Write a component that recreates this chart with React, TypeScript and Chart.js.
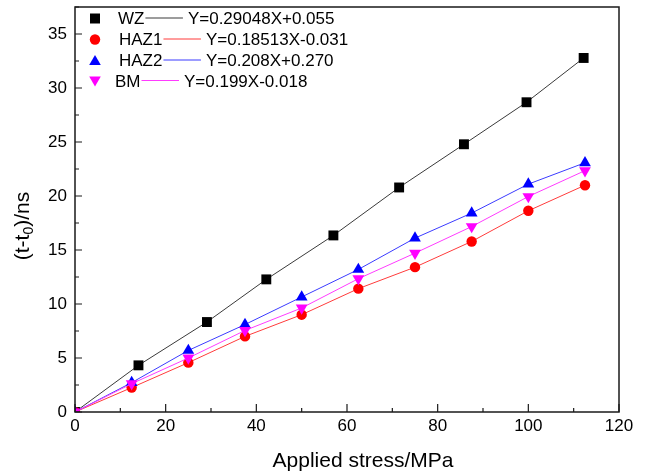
import React, { useEffect, useRef } from 'react';
import { Chart, registerables } from 'chart.js';

Chart.register(...registerables);

// ---- data ----
const seriesNames = ['WZ', 'HAZ1', 'HAZ2', 'BM'];
const equations = ['Y=0.29048X+0.055', 'Y=0.18513X-0.031', 'Y=0.208X+0.270', 'Y=0.199X-0.018'];
const wzStress = [0, 14.0, 29.1, 42.2, 57.0, 71.5, 85.8, 99.6, 112.2];
const wzDelay = [0, 4.32, 8.33, 12.28, 16.35, 20.79, 24.79, 28.68, 32.78];
const hazStress = [0, 12.5, 25, 37.5, 50, 62.5, 75, 87.5, 100, 112.5];
const haz1Delay = [0, 2.26, 4.57, 7.0, 9.01, 11.42, 13.41, 15.79, 18.63, 21.0];
const haz2Delay = [0, 2.72, 5.7, 8.1, 10.65, 13.2, 16.1, 18.42, 21.1, 23.08];
const bmDelay = [0, 2.62, 5.0, 7.55, 9.63, 12.34, 14.71, 17.17, 19.95, 22.35];
const xTickValues = [0, 20, 40, 60, 80, 100, 120];
const yTickValues = [0, 5, 10, 15, 20, 25, 30, 35];
const xAxisTitle = 'Applied stress/MPa';
const yAxisTitleParts = ['(t-t', '0', ')/ns'];

const markerColors = ['#000000', '#ff0000', '#0000ff', '#ff00ff'];
const lineColors = ['#3a3a3a', '#ff3b3b', '#3b3bff', '#ff3bff'];
const FONT = "'Liberation Sans', Arial, Helvetica, sans-serif";

const toPoints = (xs: number[], ys: number[]) => xs.map((x, i) => ({ x, y: ys[i] }));

function drawMarker(ctx: CanvasRenderingContext2D, idx: number, x: number, y: number) {
  ctx.save();
  ctx.fillStyle = markerColors[idx];
  ctx.beginPath();
  if (idx === 0) {
    ctx.rect(x - 5, y - 5, 10, 10);
  } else if (idx === 1) {
    ctx.arc(x, y, 5.2, 0, Math.PI * 2);
  } else if (idx === 2) {
    ctx.moveTo(x, y - 5.5);
    ctx.lineTo(x + 5.8, y + 4.5);
    ctx.lineTo(x - 5.8, y + 4.5);
    ctx.closePath();
  } else {
    ctx.moveTo(x, y + 5.5);
    ctx.lineTo(x + 5.8, y - 4.5);
    ctx.lineTo(x - 5.8, y - 4.5);
    ctx.closePath();
  }
  ctx.fill();
  ctx.restore();
}

const framePlugin = {
  id: 'frame',
  afterDraw(chart: any) {
    const { ctx, chartArea } = chart;
    const { left, right, top, bottom } = chartArea;
    const xs = chart.scales.x;
    const ys = chart.scales.y;
    ctx.save();
    // box
    ctx.strokeStyle = '#1a1a1a';
    ctx.lineWidth = 1.5;
    ctx.strokeRect(left, top, right - left, bottom - top);
    // ticks (inward)
    ctx.lineWidth = 1.2;
    ctx.beginPath();
    const xt = xs.ticks.map((t: any) => t.value);
    xt.forEach((v: number, i: number) => {
      const px = xs.getPixelForValue(v);
      ctx.moveTo(px, bottom);
      ctx.lineTo(px, bottom - 8);
      if (i < xt.length - 1) {
        const mx = xs.getPixelForValue((v + xt[i + 1]) / 2);
        ctx.moveTo(mx, bottom);
        ctx.lineTo(mx, bottom - 4);
      }
    });
    const yt = ys.ticks.map((t: any) => t.value);
    yt.forEach((v: number, i: number) => {
      const py = ys.getPixelForValue(v);
      ctx.moveTo(left, py);
      ctx.lineTo(left + 7, py);
      const next = i < yt.length - 1 ? yt[i + 1] : v + (v - yt[i - 1]);
      const mv = (v + next) / 2;
      if (mv <= ys.max) {
        const my = ys.getPixelForValue(mv);
        ctx.moveTo(left, my);
        ctx.lineTo(left + 4, my);
      }
    });
    ctx.stroke();

    // axis titles
    ctx.fillStyle = '#000';
    ctx.font = `21px ${FONT}`;
    ctx.textAlign = 'center';
    ctx.textBaseline = 'alphabetic';
    ctx.fillText(xAxisTitle, 363, 467);

    ctx.save();
    ctx.translate(29, 226);
    ctx.rotate(-Math.PI / 2);
    const bigF = `21px ${FONT}`;
    const smallF = `14px ${FONT}`;
    ctx.font = bigF;
    const w0 = ctx.measureText(yAxisTitleParts[0]).width;
    const w2 = ctx.measureText(yAxisTitleParts[2]).width;
    ctx.font = smallF;
    const w1 = ctx.measureText(yAxisTitleParts[1]).width;
    let cx = -(w0 + w1 + w2) / 2;
    ctx.textAlign = 'left';
    ctx.font = bigF;
    ctx.fillText(yAxisTitleParts[0], cx, 0);
    cx += w0;
    ctx.font = smallF;
    ctx.fillText(yAxisTitleParts[1], cx, 4);
    cx += w1;
    ctx.font = bigF;
    ctx.fillText(yAxisTitleParts[2], cx, 0);
    ctx.restore();

    // legend
    const rowY = [18.5, 39.5, 60.5, 81];
    const labelX = [118, 119, 119, 115];
    ctx.font = `17px ${FONT}`;
    ctx.textBaseline = 'middle';
    ctx.textAlign = 'left';
    seriesNames.forEach((name, i) => {
      const y = rowY[i];
      drawMarker(ctx, i, 95, y);
      ctx.fillStyle = '#000';
      ctx.fillText(name, labelX[i], y + 1);
      const lw = ctx.measureText(name).width;
      const l0 = labelX[i] + lw + 1;
      const l1 = l0 + 37.5;
      ctx.strokeStyle = lineColors[i];
      ctx.lineWidth = 1;
      ctx.beginPath();
      ctx.moveTo(l0, y - 0.5);
      ctx.lineTo(l1, y - 0.5);
      ctx.stroke();
      ctx.fillText(equations[i], l1 + 5, y + 1);
    });
    ctx.restore();
  },
};

export default function App() {
  const ref = useRef<HTMLCanvasElement | null>(null);
  useEffect(() => {
    if (!ref.current) return;
    const ds = [
      { data: toPoints(wzStress, wzDelay), pointStyle: 'rect', pointRadius: 7, order: 3 },
      { data: toPoints(hazStress, haz1Delay), pointStyle: 'circle', pointRadius: 5.2, order: 2 },
      { data: toPoints(hazStress, haz2Delay), pointStyle: 'triangle', pointRadius: 6.8, rotation: 0, order: 1 },
      { data: toPoints(hazStress, bmDelay), pointStyle: 'triangle', pointRadius: 6.8, rotation: 180, order: 0 },
    ].map((d, i) => ({
      label: seriesNames[i],
      data: d.data,
      order: d.order,
      showLine: true,
      borderColor: lineColors[i],
      borderWidth: 1,
      pointStyle: d.pointStyle,
      pointRadius: d.pointRadius,
      pointHoverRadius: d.pointRadius,
      pointRotation: (d as any).rotation || 0,
      pointBackgroundColor: markerColors[i],
      pointBorderColor: markerColors[i],
      pointBorderWidth: 0,
      fill: false,
    }));
    const chart = new Chart(ref.current, {
      type: 'scatter',
      data: { datasets: ds as any },
      options: {
        animation: false,
        responsive: false,
        devicePixelRatio: 1,
        layout: { padding: { left: 0, top: 7, right: 30, bottom: 0 } },
        plugins: { legend: { display: false }, tooltip: { enabled: false } },
        scales: {
          x: {
            type: 'linear',
            min: 0,
            max: 120,
            afterBuildTicks: (s: any) => { s.ticks = xTickValues.map((v) => ({ value: v })); },
            afterFit: (s: any) => { s.height = 63; s.paddingLeft = 0; s.paddingRight = 0; },
            ticks: { font: { family: FONT, size: 17 }, color: '#000', padding: 4, maxRotation: 0 },
            grid: { drawOnChartArea: false, drawTicks: false },
            border: { display: false },
          },
          y: {
            type: 'linear',
            min: 0,
            max: 37.5,
            afterBuildTicks: (s: any) => { s.ticks = yTickValues.map((v) => ({ value: v })); },
            afterFit: (s: any) => { s.width = 75; s.paddingTop = 0; s.paddingBottom = 0; },
            ticks: { font: { family: FONT, size: 17 }, color: '#000', padding: 8 },
            grid: { drawOnChartArea: false, drawTicks: false },
            border: { display: false },
          },
        },
      },
      plugins: [framePlugin],
    });
    return () => chart.destroy();
  }, []);
  return (
    <div style={{ position: 'fixed', left: 0, top: 0, width: 649, height: 475, background: '#fff' }}>
      <canvas ref={ref} width={649} height={475} />
    </div>
  );
}
